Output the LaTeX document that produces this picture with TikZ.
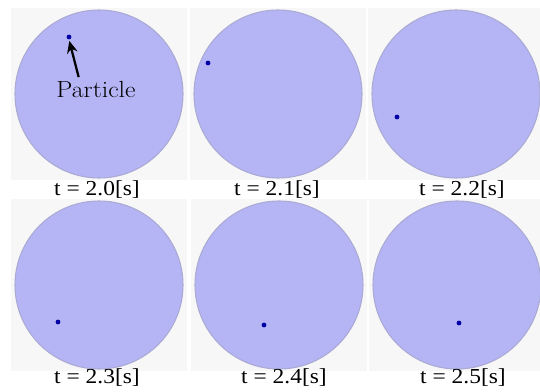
\documentclass[tikz,border=0pt]{standalone}
\usepackage{fontspec}
\usetikzlibrary{arrows.meta,positioning}
\newfontfamily\timesfont{Liberation Serif}
\definecolor{panelgray}{RGB}{247,247,247}
\definecolor{discfill}{RGB}{181,181,245}
\definecolor{discedge}{RGB}{170,170,212}
\definecolor{dotblue}{RGB}{0,0,165}

\begin{document}
\begin{tikzpicture}[x=0.75pt, y=-0.75pt]
\useasboundingbox (0,0) rectangle (540,392);
% Six snapshots of the disc
\foreach \n/\cx/\cy/\px/\py/\lx/\ly/\t in {1/99/94/69/37/97/196/2.0, 2/278/94/208/63/277/196/2.1, 3/456/94/397/117/462/196/2.2, 4/99/285/58/322/97/384/2.3, 5/279/285/264/325/284/384/2.4, 6/457/285/459/323/463/384/2.5} {
  \fill[panelgray] (\cx-88,\cy-86) rectangle (\cx+88,\cy+86);
  \draw[discedge, fill=discfill, line width=0.8pt] (\cx,\cy) circle (63pt);
  \node[circle, fill=dotblue, inner sep=0pt, minimum size=3.6pt] (dot\n) at (\px,\py) {};
  \node[anchor=base, font=\timesfont\fontsize{16}{18}\selectfont] (time\n) at (\lx,\ly) {\scalebox{1.1}[1]{t = \t[s]}};
}
% Label for the particle
\node[anchor=base, font=\fontsize{17.5}{19}\selectfont] (particle) at (96,98) {\scalebox{1.1}[1]{Particle}};
\draw[-{Stealth[length=9pt,width=8pt]}, line width=1.7pt, shorten >=1pt] ([xshift=-13pt]particle.north) -- (dot1.south);
\end{tikzpicture}
\end{document}
